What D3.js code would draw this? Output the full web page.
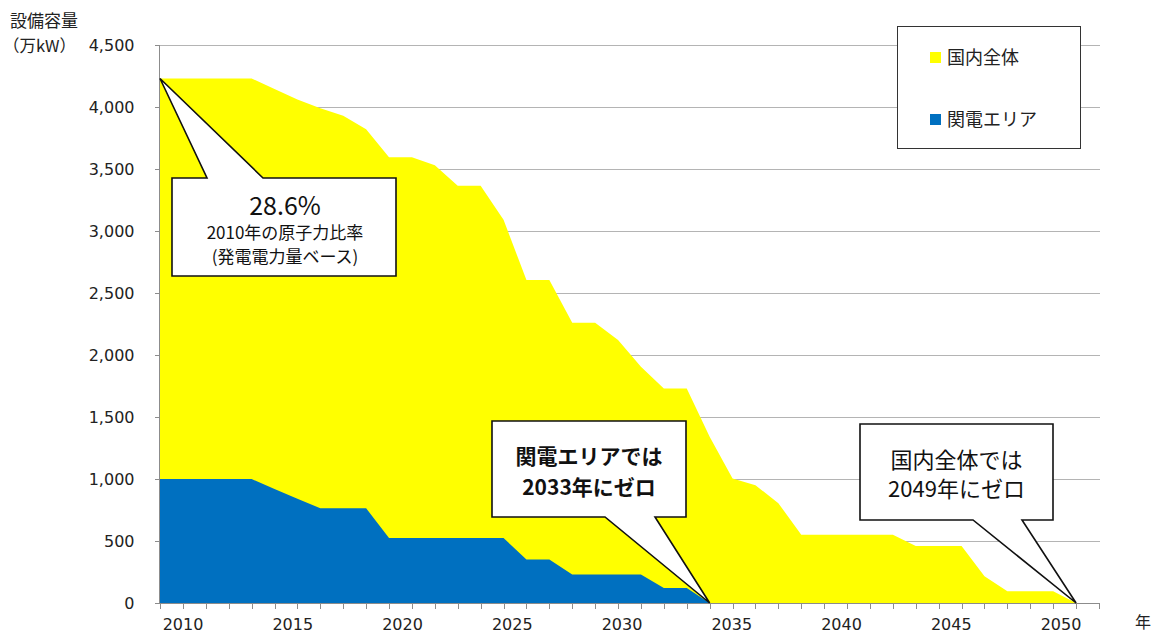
<!DOCTYPE html>
<meta charset="utf-8">
<style>
    body { margin: 0; background: #fff; }
    svg { font-family: "Noto Sans CJK JP", sans-serif; }
    .grid line { stroke: #b4b4b4; stroke-width: 1; }
    .axis path, .axis line { stroke: #8c8c8c; shape-rendering: crispEdges; }
    .callout path { fill: #fff; stroke: #111; stroke-width: 1.6; }
</style>
<body>
<script src="https://cdn.jsdelivr.net/npm/d3@7"></script>
<script>
    // years with a value (2009 - 2049)
    const years = [2009, 2010, 2011, 2012, 2013, 2014, 2015, 2016, 2017, 2018,
        2019, 2020, 2021, 2022, 2023, 2024, 2025, 2026, 2027, 2028,
        2029, 2030, 2031, 2032, 2033, 2034, 2035, 2036, 2037, 2038,
        2039, 2040, 2041, 2042, 2043, 2044, 2045, 2046, 2047, 2048, 2049];

    // 国内全体 (万kW)
    const totalJapan = [4230, 4230, 4230, 4230, 4230, 4145, 4060, 3990, 3930, 3820,
        3595, 3595, 3530, 3365, 3365, 3090, 2605, 2605, 2260, 2260,
        2120, 1905, 1730, 1730, 1340, 1005, 950, 805, 550, 550,
        550, 550, 550, 460, 460, 460, 215, 95, 95, 95, 0];

    // 関電エリア (万kW), 2009 - 2033
    const kansai = [1000, 1000, 1000, 1000, 1000, 920, 840, 765, 765, 765,
        525, 525, 525, 525, 525, 525, 350, 350, 230, 230,
        230, 230, 120, 120, 0];

    const yTicks = [0, 500, 1000, 1500, 2000, 2500, 3000, 3500, 4000, 4500];
    const xLabels = [2010, 2015, 2020, 2025, 2030, 2035, 2040, 2045, 2050];
    const seriesNames = ["国内全体", "関電エリア"];
    const seriesColors = ["#ffff00", "#0070c0"];

    const width = 1161, height = 635;
    const plotL = 160, plotR = 1099, plotT = 45, plotB = 603;
    const numFont = "'DejaVu Sans', Verdana, sans-serif";

    const svg = d3.select("body").append("svg")
        .attr("width", width)
        .attr("height", height);

    const x = d3.scaleLinear().domain([2009, 2050]).range([plotL, plotR]);
    const y = d3.scaleLinear().domain([0, 4500]).range([plotB, plotT]);
    // the year labels sit a little apart from the year ticks in the original
    const xLab = d3.scaleLinear().domain([2010, 2050]).range([183, 1061]);

    // gridlines
    svg.append("g").attr("class", "grid")
        .selectAll("line")
        .data(yTicks.filter(d => d > 0))
        .enter().append("line")
        .attr("x1", plotL).attr("x2", plotR + 1)
        .attr("y1", d => Math.round(y(d)) + 0.5)
        .attr("y2", d => Math.round(y(d)) + 0.5);

    const area = d3.area()
        .x(d => x(d[0]))
        .y0(y(0))
        .y1(d => y(d[1]));

    svg.append("path")
        .datum(years.map((yr, i) => [yr, totalJapan[i]]))
        .attr("fill", seriesColors[0])
        .attr("d", area);

    svg.append("path")
        .datum(kansai.map((v, i) => [years[i], v]))
        .attr("fill", seriesColors[1])
        .attr("d", area);

    // y axis
    const yAxis = svg.append("g")
        .attr("class", "axis")
        .attr("transform", "translate(" + (plotL - 0.5) + ",0)")
        .call(d3.axisLeft(y).tickValues(yTicks).tickSize(5).tickPadding(20)
            .tickFormat(d3.format(",")));
    yAxis.select(".domain").attr("d", "M0," + plotT + "V" + plotB);
    yAxis.selectAll("text")
        .style("font-family", numFont)
        .style("font-size", "16px")
        .style("fill", "#222");

    // x axis, one tick for every year
    const xAxis = svg.append("g")
        .attr("class", "axis")
        .attr("transform", "translate(0," + (plotB + 0.5) + ")")
        .call(d3.axisBottom(x).tickValues(d3.range(2009, 2051)).tickSize(5).tickFormat(""));
    xAxis.select(".domain").attr("d", "M" + plotL + ",0H" + (plotR + 1));

    svg.append("g")
        .selectAll("text")
        .data(xLabels)
        .enter().append("text")
        .attr("x", d => xLab(d))
        .attr("y", 630)
        .attr("text-anchor", "middle")
        .style("font-family", numFont)
        .style("font-size", "16px")
        .style("fill", "#222")
        .text(d => d);

    svg.append("text")
        .attr("x", 1143).attr("y", 628)
        .attr("text-anchor", "middle")
        .style("font-size", "16px").style("fill", "#222")
        .text("年");

    // y axis title
    svg.append("text")
        .attr("x", 10).attr("y", 27)
        .style("font-size", "17px").style("fill", "#222")
        .text("設備容量");
    svg.append("text")
        .attr("x", 3).attr("y", 52)
        .style("font-size", "16.5px").style("fill", "#222")
        .text("（万kW）");

    // callouts: box plus a pointer to the data point
    function callout(box, base, tip, lines, opts) {
        const [x0, y0, x1, y1] = box;
        let d;
        if (base.side === "top") {
            d = "M" + tip + "L" + base.a + "," + y0 + "H" + x0 + "V" + y1 + "H" + x1 + "V" + y0 + "H" + base.b + "Z";
        } else {
            d = "M" + tip + "L" + base.b + "," + y1 + "H" + x1 + "V" + y0 + "H" + x0 + "V" + y1 + "H" + base.a + "Z";
        }
        const g = svg.append("g").attr("class", "callout");
        g.append("path").attr("d", d);
        lines.forEach(l => {
            g.append("text")
                .attr("x", (x0 + x1) / 2 + (opts.dx || 0))
                .attr("y", l.y)
                .attr("text-anchor", "middle")
                .style("font-size", l.size + "px")
                .style("font-weight", opts.bold ? "bold" : "normal")
                .style("fill", "#111")
                .text(l.text);
        });
    }

    callout([172, 178, 396, 276], {side: "top", a: 207, b: 263},
        [x(years[0]), y(totalJapan[0])],
        [{text: "28.6%", size: 25, y: 215},
         {text: "2010年の原子力比率", size: 17, y: 239},
         {text: "(発電電力量ベース)", size: 17, y: 263}],
        {dx: 1});

    callout([492, 421, 686, 517], {side: "bottom", a: 605, b: 655},
        [x(years[kansai.length - 1]), y(kansai[kansai.length - 1])],
        [{text: "関電エリアでは", size: 21, y: 464},
         {text: "2033年にゼロ", size: 21, y: 495}],
        {bold: true});

    callout([860, 424, 1053, 520], {side: "bottom", a: 973, b: 1022},
        [x(years[years.length - 1]), y(totalJapan[totalJapan.length - 1])],
        [{text: "国内全体では", size: 22, y: 468},
         {text: "2049年にゼロ", size: 22, y: 497}],
        {});

    // legend
    const legend = svg.append("g");
    legend.append("rect")
        .attr("x", 897.5).attr("y", 26.5)
        .attr("width", 183).attr("height", 122)
        .attr("fill", "#fff")
        .attr("stroke", "#333");
    const item = legend.selectAll(".legend")
        .data(seriesNames)
        .enter().append("g")
        .attr("transform", (d, i) => "translate(930," + (52 + i * 62) + ")");
    item.append("rect")
        .attr("width", 11).attr("height", 11)
        .attr("fill", (d, i) => seriesColors[i]);
    item.append("text")
        .attr("x", 17).attr("y", 12)
        .style("font-size", "18px").style("fill", "#222")
        .text(d => d);
</script>
</body>
